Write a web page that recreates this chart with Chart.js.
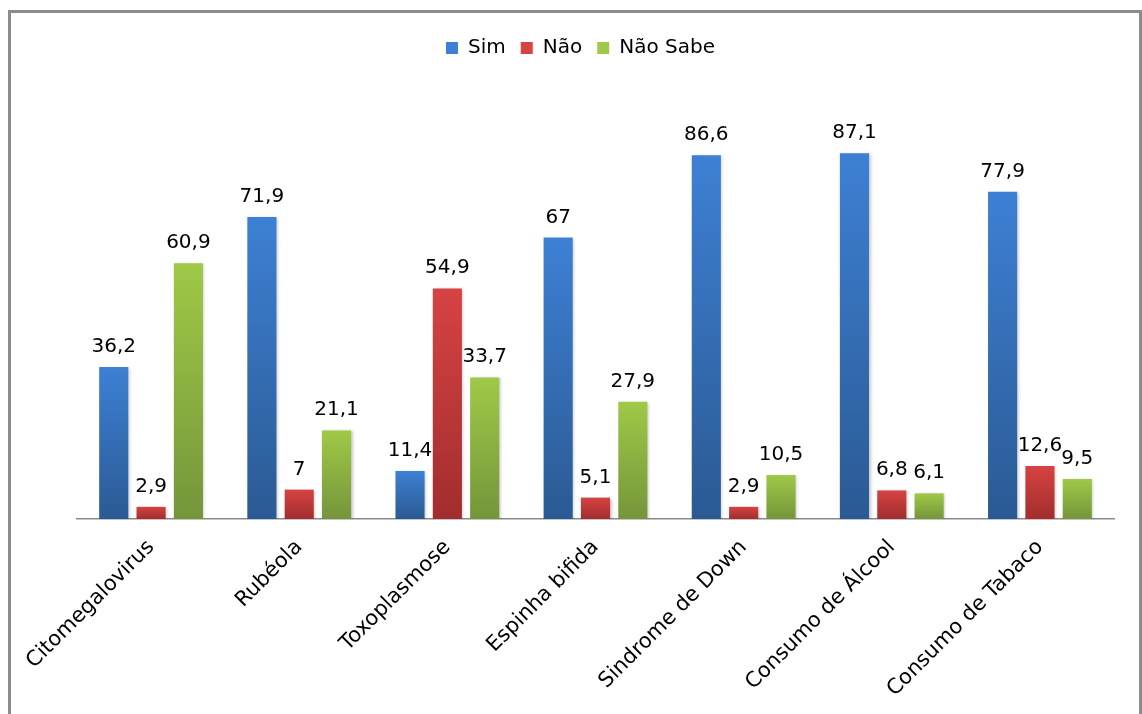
<!DOCTYPE html>
<html>
<head>
<meta charset="utf-8">
<script src="https://cdn.jsdelivr.net/npm/chart.js@4.4.0/dist/chart.umd.min.js"></script>
<style>
    body { margin: 0; background: #fff; }
    #frame {
        position: absolute; left: 8px; top: 10px;
        width: 1128px; height: 760px;
        border: 3px solid #8c8c8c;
    }
    #wrap { position: absolute; left: 0; top: 0; width: 1142px; height: 714px; }
</style>
</head>
<body>
<div id="frame"></div>
<div id="wrap"><canvas id="chart" width="1142" height="714"></canvas></div>
<script>
const categories = ['Citomegalovirus', 'Rubéola', 'Toxoplasmose', 'Espinha bifida', 'Sindrome de Down', 'Consumo de Álcool', 'Consumo de Tabaco'];
const sim = [36.2, 71.9, 11.4, 67, 86.6, 87.1, 77.9];
const nao = [2.9, 7, 54.9, 5.1, 2.9, 6.8, 12.6];
const naoSabe = [60.9, 21.1, 33.7, 27.9, 10.5, 6.1, 9.5];

// top / bottom colour of each bar's gradient
const palette = {
    sim: ['#3d80d4', '#2b5a93'],
    nao: ['#d64343', '#a22d2d'],
    naoSabe: ['#9fc947', '#75953a']
};

Chart.defaults.font.family = '"DejaVu Sans", sans-serif';
Chart.defaults.color = '#000';

function barFill(colors) {
    return function (ctx) {
        if (ctx.type !== 'data') return colors[0];
        const chart = ctx.chart;
        const y = chart.scales.y;
        if (!y || !chart.chartArea) return colors[0];
        const top = y.getPixelForValue(ctx.raw);
        const bottom = y.getPixelForValue(0);
        if (!isFinite(top) || top === bottom) return colors[0];
        const g = chart.ctx.createLinearGradient(0, top, 0, bottom);
        g.addColorStop(0, colors[0]);
        g.addColorStop(1, colors[1]);
        return g;
    };
}

// soft shadow under bars, then the value labels with decimal comma
const barExtras = {
    id: 'barExtras',
    beforeDatasetsDraw(chart) {
        const c = chart.ctx;
        c.save();
        c.shadowColor = 'rgba(0,0,0,0.22)';
        c.shadowBlur = 3;
        c.shadowOffsetX = 1.5;
        c.shadowOffsetY = 1;
    },
    afterDatasetsDraw(chart) {
        const c = chart.ctx;
        c.restore();
        c.save();
        c.font = '20px "DejaVu Sans"';
        c.fillStyle = '#000';
        c.textAlign = 'center';
        c.textBaseline = 'alphabetic';
        chart.data.datasets.forEach((ds, i) => {
            chart.getDatasetMeta(i).data.forEach((bar, j) => {
                const txt = String(ds.data[j]).replace('.', ',');
                c.fillText(txt, bar.x, bar.y - 15);
            });
        });
        c.restore();
    }
};

// extra room below the legend, and the legend row nudged a bit left
const legendTweak = {
    id: 'legendTweak',
    beforeInit(chart) {
        const fit = chart.legend.fit;
        chart.legend.fit = function () {
            fit.bind(chart.legend)();
            this.height += 31;
        };
    },
    afterLayout(chart) {
        chart.legend.left -= 15;
        chart.legend.right -= 15;
    }
};

new Chart(document.getElementById('chart'), {
    type: 'bar',
    data: {
        labels: categories,
        datasets: [
            { label: 'Sim', data: sim, backgroundColor: barFill(palette.sim) },
            { label: 'Não', data: nao, backgroundColor: barFill(palette.nao) },
            { label: 'Não Sabe', data: naoSabe, backgroundColor: barFill(palette.naoSabe) }
        ]
    },
    options: {
        responsive: false,
        animation: false,
        layout: { padding: { left: 77, right: 28, top: 23, bottom: 0 } },
        datasets: {
            bar: { categoryPercentage: 0.756, barPercentage: 0.78 }
        },
        plugins: {
            legend: {
                position: 'top',
                labels: {
                    boxWidth: 12,
                    boxHeight: 12,
                    padding: 15,
                    font: { size: 20 }
                }
            },
            tooltip: { enabled: false }
        },
        scales: {
            x: {
                grid: { display: false, drawTicks: false },
                border: { display: true, color: '#8a8a8a', width: 1.5 },
                ticks: {
                    autoSkip: false,
                    maxRotation: 45,
                    minRotation: 45,
                    padding: 16,
                    font: { size: 21 }
                },
                afterFit(scale) {
                    scale.height = 195;
                    scale.paddingLeft = 0;
                    scale.paddingRight = 0;
                }
            },
            y: {
                display: false,
                min: 0,
                max: 100
            }
        }
    },
    plugins: [barExtras, legendTweak]
});
</script>
</body>
</html>
